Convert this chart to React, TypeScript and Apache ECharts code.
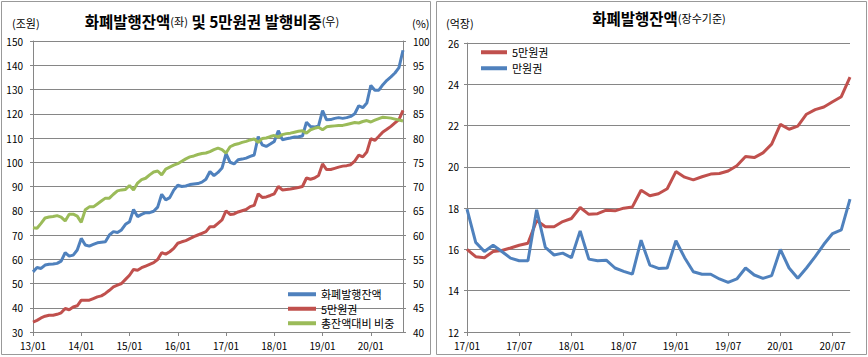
import React, { useEffect, useRef } from "react";
import * as echarts from "echarts";

function monthLabels(startYear: number, count: number): string[] {
  const out: string[] = [];
  for (let i = 0; i < count; i++) {
    const y = startYear + Math.floor(i / 12);
    const m = (i % 12) + 1;
    out.push(String(y).padStart(2, "0") + "/" + String(m).padStart(2, "0"));
  }
  return out;
}

// Left chart: 13/01 .. 20/09
const leftCategories = monthLabels(13, 93);
const issuanceTotal = [
  54.8, 56.6, 56.2, 57.6, 57.9, 58, 58.3, 59.2, 62.7, 61.3, 61.7, 63.8, 68.6, 65.9, 65.4, 66.1, 66.8, 67, 67.2, 70, 71.4, 71, 72.1, 74.4, 75.5,
  80.5, 77.6, 78.5, 79.2, 79.2, 79.8, 81.5, 86.8, 84.5, 85.4, 88.5, 90.5, 90, 90.2, 90.8, 91, 91.2, 91.8, 93, 96.2, 94.5, 95.8, 97.6,
  103.5, 100, 99.3, 101, 101.3, 101.7, 102.4, 103, 110.6, 107.2, 106.5, 107.5, 108.6, 113, 109.3, 109.7, 110, 110.4, 110.5, 110.8, 116.5, 114.7, 114.5, 115, 121.3, 117.5,
  117.6, 118.1, 118.4, 118.1, 118.4, 118.9, 120, 123.3, 122.5, 124.4, 131.7, 129.7, 129.7, 132, 133.8, 135.2, 136.8, 139, 146.2,
];
const note50k = [
  34.1, 34.8, 35.8, 36.5, 36.9, 36.9, 37.3, 37.9, 39.7, 39.2, 40.3, 40.8, 43.1, 43.1, 43.1, 43.8, 44.5, 44.9, 45.9, 47.2, 48.6, 49.3, 50, 51.7, 53.4,
  55.8, 55.5, 56.5, 57.2, 57.9, 58.6, 59.9, 62.7, 62.1, 63.1, 64.5, 66.6, 67.2, 67.7, 68.5, 69.3, 70, 70.7, 71.4, 73.4, 73.4, 74.8, 76.2,
  80, 78.5, 78.7, 79.5, 80, 80.5, 81.7, 82.2, 87, 85.5, 85.7, 86.3, 87, 90, 88.6, 88.8, 89, 89.3, 89.6, 90, 93.5, 93, 93.5, 94.5, 99.3, 97,
  97, 97.5, 98, 98.4, 98.6, 99, 100.5, 102.9, 102.2, 104.2, 109.7, 109, 110.7, 112.5, 113.6, 114.8, 116.2, 117.6, 121.4,
];
const share50k = [
  61.5, 61.4, 62.4, 63.5, 63.7, 63.8, 64, 63.7, 62.9, 64.3, 64.3, 63.9, 62.6, 65.2, 65.8, 65.8, 66.4, 67, 67.6, 67.6, 68.4, 69.1, 69.3, 69.4, 70.2,
  69.3, 70.7, 71.4, 71.7, 72.4, 73, 73.2, 72.4, 73.6, 74, 74.4, 74.7, 75.2, 75.7, 76.1, 76.3, 76.6, 76.8, 76.9, 77.2, 77.6, 77.9, 77.6,
  76.9, 78.2, 78.6, 78.8, 79.1, 79.3, 79.6, 79.8, 79.1, 79.9, 80, 80.3, 80.5, 80.2, 80.7, 80.9, 81, 81.2, 81.4, 81.5, 81, 81.7, 82, 82.2, 81.7, 82.3,
  82.4, 82.5, 82.6, 82.6, 82.8, 83, 83.2, 83.1, 83.4, 83.6, 83.3, 83.7, 84, 84.3, 84.2, 84.1, 83.9, 83.7, 83.5,
];

// Right chart: 17/01 .. 20/09 (억장)
const rightCategories = monthLabels(17, 45);
const count50k = [
  16, 15.65, 15.6, 15.9, 15.95, 16.07, 16.2, 16.3, 17.4, 17.1,
  17.1, 17.35, 17.5, 18.03, 17.7, 17.73, 17.9, 17.87, 18, 18.06,
  18.87, 18.6, 18.7, 18.94, 19.77, 19.5, 19.37, 19.52, 19.65, 19.68,
  19.8, 20.05, 20.5, 20.45, 20.68, 21.1, 22.06, 21.82, 21.97, 22.55,
  22.77, 22.9, 23.15, 23.4, 24.35,
];
const count10k = [
  17.95, 16.34, 15.9, 16.2, 15.9, 15.58, 15.45, 15.45, 17.92, 16.1,
  15.73, 15.82, 15.6, 16.9, 15.53, 15.45, 15.48, 15.1, 14.94, 14.8,
  16.45, 15.24, 15.08, 15.1, 16.42, 15.6, 14.92, 14.8, 14.8, 14.57,
  14.4, 14.57, 15.1, 14.76, 14.6, 14.73, 16, 15.1, 14.6, 15.1,
  15.65, 16.25, 16.77, 16.95, 18.44,
];

const BLUE = "#4F81BD";
const RED = "#C0504D";
const GREEN = "#9BBB59";
const GRID = "#868686";
const FONT = "'Noto Sans CJK KR', 'Noto Sans', sans-serif";

export default function App() {
  const ref = useRef<HTMLDivElement>(null);
  useEffect(() => {
    document.body.style.margin = "0";
    if (!ref.current) return;
    const chart = echarts.init(ref.current, undefined, { renderer: "svg" });
    const axisLabel = { color: "#000", fontSize: 10, fontFamily: FONT };
    const line = (name: string, data: number[], color: string, xi: number, yi: number) => ({
      name,
      type: "line",
      data,
      xAxisIndex: xi,
      yAxisIndex: yi,
      symbol: "none",
      showSymbol: false,
      lineStyle: { color, width: 3 },
      itemStyle: { color },
      emphasis: { disabled: true },
    });
    chart.setOption({
      animation: false,
      textStyle: { fontFamily: FONT },
      grid: [
        { left: 33, top: 41, width: 370, height: 291 },
        { left: 467, top: 43, width: 383, height: 289 },
      ],
      xAxis: [
        {
          type: "category",
          gridIndex: 0,
          data: leftCategories,
          boundaryGap: false,
          axisLine: { lineStyle: { color: GRID } },
          axisTick: { interval: (i: number) => i % 12 === 0, length: 4, lineStyle: { color: GRID } },
          axisLabel: { ...axisLabel, margin: 8, interval: (i: number) => i % 12 === 0 },
          splitLine: { show: false },
        },
        {
          type: "category",
          gridIndex: 1,
          data: rightCategories,
          boundaryGap: false,
          axisLine: { lineStyle: { color: GRID } },
          axisTick: { interval: (i: number) => i % 6 === 0, length: 4, lineStyle: { color: GRID } },
          axisLabel: { ...axisLabel, margin: 8, interval: (i: number) => i % 6 === 0 },
          splitLine: { show: false },
        },
      ],
      yAxis: [
        {
          type: "value",
          gridIndex: 0,
          min: 30,
          max: 150,
          interval: 10,
          axisLine: { show: true, lineStyle: { color: GRID } },
          axisTick: { show: true, length: 3, lineStyle: { color: GRID } },
          axisLabel: { ...axisLabel, margin: 10 },
          splitLine: { show: true, lineStyle: { color: GRID, width: 1 } },
        },
        {
          type: "value",
          gridIndex: 0,
          position: "right",
          min: 40,
          max: 100,
          interval: 5,
          axisLine: { show: true, lineStyle: { color: GRID } },
          axisTick: { show: true, length: 3, lineStyle: { color: GRID } },
          axisLabel: { ...axisLabel, margin: 10 },
          splitLine: { show: false },
        },
        {
          type: "value",
          gridIndex: 1,
          min: 12,
          max: 26,
          interval: 2,
          axisLine: { show: true, lineStyle: { color: GRID } },
          axisTick: { show: true, length: 3, lineStyle: { color: GRID } },
          axisLabel: { ...axisLabel, margin: 8 },
          splitLine: { show: true, lineStyle: { color: GRID, width: 1 } },
        },
      ],
      legend: [
        {
          data: ["화폐발행잔액", "5만원권", "총잔액대비 비중"],
          orient: "vertical",
          left: 288,
          top: 288,
          padding: 0,
          itemGap: 2,
          itemWidth: 28,
          itemHeight: 4,
          icon: "rect",
          selectedMode: false,
          textStyle: { fontSize: 11, lineHeight: 12.5, color: "#000", fontFamily: FONT },
        },
        {
          data: ["5만원권", "만원권"],
          orient: "vertical",
          left: 481,
          top: 46,
          padding: 0,
          itemGap: 3.5,
          itemWidth: 26,
          itemHeight: 4,
          icon: "rect",
          selectedMode: false,
          textStyle: { fontSize: 11, lineHeight: 12.5, color: "#000", fontFamily: FONT },
        },
      ],
      series: [
        line("화폐발행잔액", issuanceTotal, BLUE, 0, 0),
        line("5만원권", note50k, RED, 0, 0),
        line("총잔액대비 비중", share50k, GREEN, 0, 1),
        line("5만원권", count50k, RED, 1, 2),
        line("만원권", count10k, BLUE, 1, 2),
      ],
      graphic: [
        { type: "rect", shape: { x: 1.5, y: 1.5, width: 429, height: 353 }, style: { fill: "none", stroke: "#999", lineWidth: 1 }, silent: true },
        { type: "rect", shape: { x: 436.5, y: 1.5, width: 430, height: 353 }, style: { fill: "none", stroke: "#999", lineWidth: 1 }, silent: true },
        {
          type: "text",
          x: 212,
          y: 21,
          style: {
            text: "{b|화폐발행잔액}{s|(좌)}{b| 및 5만원권 발행비중}{s|(우)}",
            align: "center",
            verticalAlign: "middle",
            rich: {
              b: { fontSize: 15.5, fontWeight: "bold", fill: "#000", fontFamily: FONT },
              s: { fontSize: 11, fill: "#000", fontFamily: FONT },
            },
          },
        },
        { type: "text", x: 12, y: 23, style: { text: "(조원)", fontSize: 11, fill: "#000", fontFamily: FONT, verticalAlign: "middle" } },
        { type: "text", x: 412, y: 23, style: { text: "(%)", fontSize: 11, fill: "#000", fontFamily: FONT, verticalAlign: "middle" } },
        {
          type: "text",
          x: 659,
          y: 18,
          style: {
            text: "{b|화폐발행잔액}{s|(장수기준)}",
            align: "center",
            verticalAlign: "middle",
            rich: {
              b: { fontSize: 15.5, fontWeight: "bold", fill: "#000", fontFamily: FONT },
              s: { fontSize: 11, fill: "#000", fontFamily: FONT },
            },
          },
        },
        { type: "text", x: 446, y: 23, style: { text: "(억장)", fontSize: 11, fill: "#000", fontFamily: FONT, verticalAlign: "middle" } },
      ],
    });
    return () => chart.dispose();
  }, []);
  return <div ref={ref} style={{ position: "absolute", left: 0, top: 0, width: 868, height: 357 }} />;
}
